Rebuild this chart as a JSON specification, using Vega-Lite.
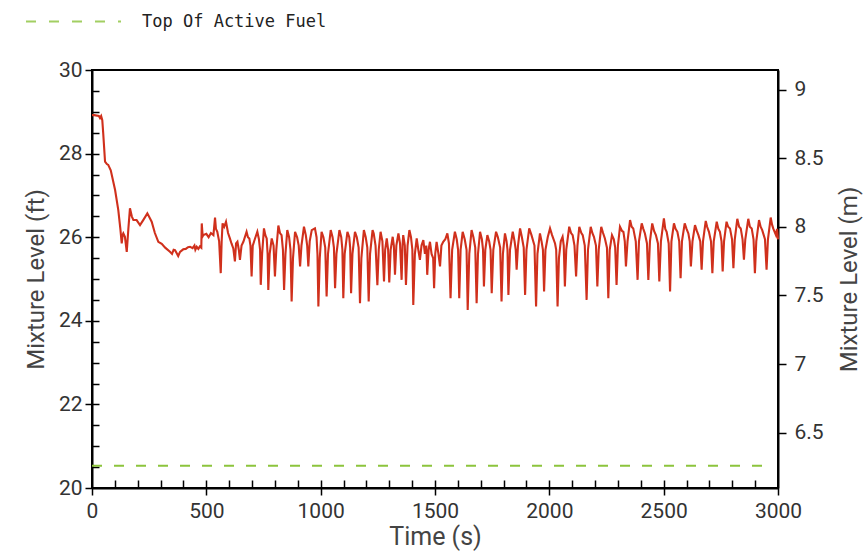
{
  "$schema": "https://vega.github.io/schema/vega-lite/v6.json",
  "width": 686,
  "height": 418,
  "autosize": {"type": "none"},
  "padding": {"left": 92, "top": 70, "right": 90, "bottom": 70},
  "background": "white",
  "config": {
    "view": {"stroke": "black", "strokeWidth": 2},
    "font": "Roboto, Liberation Sans, sans-serif",
    "axis": {
      "labelFont": "Roboto, Liberation Sans, sans-serif",
      "titleFont": "Roboto, Liberation Sans, sans-serif",
      "grid": false,
      "domainColor": "black",
      "tickColor": "black",
      "labelColor": "#333333",
      "titleColor": "#444444",
      "titleFontWeight": "normal"
    }
  },
  "datasets": {
    "level": [
      {"t":0,"ft":28.92},{"t":10,"ft":28.92},{"t":30,"ft":28.9},{"t":35,"ft":28.85},{"t":40,"ft":28.9},{"t":45,"ft":28.8},
      {"t":49,"ft":28.49},{"t":57,"ft":27.81},{"t":65,"ft":27.75},{"t":71,"ft":27.73},{"t":82,"ft":27.6},{"t":101,"ft":27.13},
      {"t":115,"ft":26.65},{"t":124,"ft":26.2},{"t":130,"ft":25.85},{"t":134,"ft":26.05},{"t":137,"ft":26.09},{"t":144,"ft":26.01},
      {"t":152,"ft":25.65},{"t":159,"ft":26.2},{"t":166,"ft":26.69},{"t":174,"ft":26.5},{"t":181,"ft":26.41},{"t":195,"ft":26.41},
      {"t":210,"ft":26.29},{"t":224,"ft":26.41},{"t":242,"ft":26.57},{"t":261,"ft":26.37},{"t":275,"ft":26.1},{"t":290,"ft":25.89},
      {"t":305,"ft":25.84},{"t":320,"ft":25.75},{"t":341,"ft":25.65},{"t":350,"ft":25.6},{"t":357,"ft":25.7},{"t":363,"ft":25.69},
      {"t":370,"ft":25.62},{"t":377,"ft":25.55},{"t":385,"ft":25.65},{"t":392,"ft":25.68},{"t":399,"ft":25.71},{"t":410,"ft":25.72},
      {"t":420,"ft":25.76},{"t":429,"ft":25.77},{"t":440,"ft":25.74},{"t":448,"ft":25.8},{"t":452,"ft":25.7},{"t":458,"ft":25.77},
      {"t":465,"ft":25.72},{"t":472,"ft":25.78},{"t":478,"ft":25.75},{"t":480,"ft":26.33},{"t":484,"ft":26.02},{"t":487,"ft":26.05},
      {"t":500,"ft":26.08},{"t":510,"ft":26.0},{"t":520,"ft":26.1},{"t":531,"ft":26.05},{"t":538,"ft":26.47},{"t":542,"ft":26.2},
      {"t":548,"ft":26.13},{"t":556,"ft":25.9},{"t":563,"ft":25.14},{"t":567,"ft":25.9},{"t":571,"ft":26.33},{"t":578,"ft":26.25},
      {"t":586,"ft":26.37},{"t":595,"ft":26.1},{"t":603,"ft":25.97},{"t":610,"ft":25.85},{"t":618,"ft":25.73},{"t":625,"ft":25.42},
      {"t":630,"ft":25.85},{"t":636,"ft":25.89},{"t":642,"ft":25.7},{"t":647,"ft":25.46},{"t":654,"ft":25.8},{"t":662,"ft":25.89},
      {"t":676,"ft":26.13},{"t":682,"ft":26.0},{"t":688,"ft":25.97},{"t":693,"ft":25.8},{"t":698,"ft":25.06},{"t":703,"ft":25.8},
      {"t":713,"ft":25.97},{"t":723,"ft":26.13},{"t":730,"ft":25.95},{"t":735,"ft":25.7},{"t":738,"ft":24.86},{"t":744,"ft":25.6},
      {"t":752,"ft":26.21},{"t":758,"ft":26.05},{"t":764,"ft":25.97},{"t":768,"ft":25.6},{"t":771,"ft":24.74},{"t":777,"ft":25.6},
      {"t":786,"ft":25.97},{"t":794,"ft":25.8},{"t":800,"ft":25.06},{"t":806,"ft":25.7},{"t":815,"ft":26.28},{"t":822,"ft":26.1},
      {"t":829,"ft":26.05},{"t":835,"ft":25.7},{"t":840,"ft":24.74},{"t":846,"ft":25.6},{"t":854,"ft":26.17},{"t":862,"ft":26.0},
      {"t":868,"ft":25.7},{"t":873,"ft":24.46},{"t":879,"ft":25.5},{"t":888,"ft":26.13},{"t":897,"ft":26.0},{"t":904,"ft":25.8},
      {"t":910,"ft":25.3},{"t":916,"ft":25.8},{"t":927,"ft":26.25},{"t":935,"ft":26.05},{"t":941,"ft":25.8},{"t":946,"ft":25.3},
      {"t":952,"ft":25.9},{"t":961,"ft":26.17},{"t":975,"ft":26.21},{"t":982,"ft":26.0},{"t":986,"ft":25.6},{"t":990,"ft":24.34},
      {"t":996,"ft":25.5},{"t":1004,"ft":26.13},{"t":1012,"ft":26.0},{"t":1020,"ft":25.75},{"t":1026,"ft":24.58},{"t":1032,"ft":25.6},
      {"t":1044,"ft":26.17},{"t":1052,"ft":26.0},{"t":1058,"ft":25.75},{"t":1063,"ft":24.78},{"t":1069,"ft":25.6},{"t":1082,"ft":26.17},
      {"t":1090,"ft":26.0},{"t":1095,"ft":25.7},{"t":1099,"ft":24.54},{"t":1105,"ft":25.6},{"t":1117,"ft":26.13},{"t":1125,"ft":26.0},
      {"t":1129,"ft":25.75},{"t":1133,"ft":24.66},{"t":1139,"ft":25.6},{"t":1150,"ft":26.13},{"t":1158,"ft":26.0},{"t":1166,"ft":25.75},
      {"t":1172,"ft":24.42},{"t":1178,"ft":25.5},{"t":1189,"ft":26.17},{"t":1197,"ft":26.0},{"t":1204,"ft":25.75},{"t":1210,"ft":24.46},
      {"t":1216,"ft":25.6},{"t":1227,"ft":26.17},{"t":1232,"ft":26.09},{"t":1240,"ft":25.8},{"t":1248,"ft":24.85},{"t":1254,"ft":25.7},
      {"t":1262,"ft":26.13},{"t":1270,"ft":25.9},{"t":1277,"ft":24.94},{"t":1282,"ft":25.7},{"t":1289,"ft":25.97},{"t":1295,"ft":25.7},
      {"t":1300,"ft":24.92},{"t":1306,"ft":25.7},{"t":1315,"ft":26.01},{"t":1320,"ft":25.8},{"t":1325,"ft":25.1},{"t":1331,"ft":25.8},
      {"t":1340,"ft":26.09},{"t":1347,"ft":25.85},{"t":1354,"ft":24.98},{"t":1358,"ft":25.8},{"t":1361,"ft":26.05},{"t":1368,"ft":25.8},
      {"t":1373,"ft":24.86},{"t":1380,"ft":25.8},{"t":1388,"ft":26.17},{"t":1395,"ft":26.0},{"t":1401,"ft":25.7},{"t":1405,"ft":24.38},
      {"t":1412,"ft":25.6},{"t":1420,"ft":25.97},{"t":1427,"ft":25.7},{"t":1434,"ft":25.46},{"t":1441,"ft":25.8},{"t":1449,"ft":25.93},
      {"t":1456,"ft":25.6},{"t":1462,"ft":25.8},{"t":1466,"ft":25.1},{"t":1472,"ft":25.7},{"t":1478,"ft":25.89},{"t":1485,"ft":25.6},
      {"t":1492,"ft":25.5},{"t":1496,"ft":24.78},{"t":1501,"ft":25.6},{"t":1507,"ft":25.89},{"t":1515,"ft":25.6},{"t":1522,"ft":25.3},
      {"t":1528,"ft":25.8},{"t":1536,"ft":25.89},{"t":1545,"ft":25.95},{"t":1554,"ft":26.09},{"t":1561,"ft":25.85},{"t":1568,"ft":24.54},
      {"t":1575,"ft":25.7},{"t":1587,"ft":26.13},{"t":1595,"ft":25.95},{"t":1601,"ft":25.7},{"t":1606,"ft":24.54},{"t":1612,"ft":25.7},
      {"t":1621,"ft":26.13},{"t":1630,"ft":25.95},{"t":1638,"ft":25.7},{"t":1643,"ft":24.26},{"t":1650,"ft":25.6},{"t":1660,"ft":26.17},
      {"t":1668,"ft":26.0},{"t":1676,"ft":25.75},{"t":1682,"ft":24.42},{"t":1688,"ft":25.6},{"t":1697,"ft":26.13},{"t":1705,"ft":25.95},
      {"t":1710,"ft":25.7},{"t":1714,"ft":24.82},{"t":1720,"ft":25.7},{"t":1729,"ft":26.05},{"t":1737,"ft":25.9},{"t":1743,"ft":25.7},
      {"t":1748,"ft":24.66},{"t":1755,"ft":25.7},{"t":1767,"ft":26.13},{"t":1775,"ft":26.0},{"t":1785,"ft":25.75},{"t":1791,"ft":24.46},
      {"t":1797,"ft":25.6},{"t":1806,"ft":26.09},{"t":1813,"ft":25.9},{"t":1817,"ft":25.7},{"t":1821,"ft":24.62},{"t":1828,"ft":25.7},
      {"t":1840,"ft":26.13},{"t":1848,"ft":25.9},{"t":1853,"ft":25.7},{"t":1857,"ft":25.22},{"t":1863,"ft":25.8},{"t":1872,"ft":26.21},
      {"t":1880,"ft":26.0},{"t":1888,"ft":25.75},{"t":1894,"ft":24.62},{"t":1900,"ft":25.7},{"t":1912,"ft":26.21},{"t":1922,"ft":26.05},
      {"t":1935,"ft":25.8},{"t":1942,"ft":24.34},{"t":1948,"ft":25.6},{"t":1959,"ft":26.09},{"t":1966,"ft":25.9},{"t":1972,"ft":25.7},
      {"t":1977,"ft":24.7},{"t":1983,"ft":25.7},{"t":1993,"ft":26.0},{"t":2003,"ft":26.21},{"t":2012,"ft":26.05},{"t":2025,"ft":25.85},
      {"t":2030,"ft":25.7},{"t":2036,"ft":24.34},{"t":2042,"ft":25.5},{"t":2050,"ft":25.9},{"t":2058,"ft":26.01},{"t":2063,"ft":25.8},
      {"t":2068,"ft":24.82},{"t":2074,"ft":25.7},{"t":2087,"ft":26.25},{"t":2095,"ft":26.1},{"t":2102,"ft":26.05},{"t":2110,"ft":25.8},
      {"t":2117,"ft":25.06},{"t":2123,"ft":25.8},{"t":2131,"ft":26.25},{"t":2140,"ft":26.1},{"t":2146,"ft":26.05},{"t":2155,"ft":25.8},
      {"t":2163,"ft":24.5},{"t":2169,"ft":25.7},{"t":2181,"ft":26.25},{"t":2188,"ft":26.1},{"t":2195,"ft":26.01},{"t":2204,"ft":25.8},
      {"t":2210,"ft":24.82},{"t":2216,"ft":25.7},{"t":2227,"ft":26.25},{"t":2235,"ft":26.1},{"t":2243,"ft":25.97},{"t":2252,"ft":25.75},
      {"t":2258,"ft":24.54},{"t":2264,"ft":25.7},{"t":2274,"ft":26.05},{"t":2282,"ft":25.95},{"t":2288,"ft":25.75},{"t":2294,"ft":24.86},
      {"t":2300,"ft":25.8},{"t":2309,"ft":26.25},{"t":2318,"ft":26.15},{"t":2324,"ft":26.13},{"t":2330,"ft":25.9},{"t":2335,"ft":25.3},
      {"t":2342,"ft":25.9},{"t":2353,"ft":26.41},{"t":2360,"ft":26.25},{"t":2367,"ft":26.21},{"t":2378,"ft":25.9},{"t":2386,"ft":24.98},
      {"t":2392,"ft":25.9},{"t":2404,"ft":26.33},{"t":2411,"ft":26.2},{"t":2418,"ft":26.09},{"t":2427,"ft":25.85},{"t":2433,"ft":24.98},
      {"t":2440,"ft":25.9},{"t":2450,"ft":26.33},{"t":2458,"ft":26.15},{"t":2466,"ft":26.05},{"t":2475,"ft":25.85},{"t":2481,"ft":24.94},
      {"t":2488,"ft":25.9},{"t":2501,"ft":26.45},{"t":2507,"ft":26.2},{"t":2513,"ft":26.13},{"t":2522,"ft":25.85},{"t":2528,"ft":24.7},
      {"t":2534,"ft":25.9},{"t":2545,"ft":26.33},{"t":2552,"ft":26.2},{"t":2560,"ft":26.13},{"t":2568,"ft":25.9},{"t":2574,"ft":25.02},
      {"t":2580,"ft":25.9},{"t":2592,"ft":26.33},{"t":2600,"ft":26.2},{"t":2608,"ft":26.09},{"t":2614,"ft":25.9},{"t":2619,"ft":25.3},
      {"t":2626,"ft":25.9},{"t":2637,"ft":26.29},{"t":2645,"ft":26.15},{"t":2652,"ft":26.05},{"t":2660,"ft":25.9},{"t":2666,"ft":25.22},
      {"t":2672,"ft":25.9},{"t":2684,"ft":26.39},{"t":2690,"ft":26.25},{"t":2698,"ft":26.13},{"t":2707,"ft":25.9},{"t":2713,"ft":25.14},
      {"t":2719,"ft":25.9},{"t":2732,"ft":26.37},{"t":2739,"ft":26.2},{"t":2746,"ft":26.13},{"t":2753,"ft":25.9},{"t":2758,"ft":25.18},
      {"t":2764,"ft":25.9},{"t":2775,"ft":26.37},{"t":2782,"ft":26.25},{"t":2790,"ft":26.21},{"t":2799,"ft":25.95},{"t":2805,"ft":25.26},
      {"t":2811,"ft":25.95},{"t":2822,"ft":26.44},{"t":2830,"ft":26.25},{"t":2837,"ft":26.21},{"t":2845,"ft":25.95},{"t":2851,"ft":25.46},
      {"t":2857,"ft":25.95},{"t":2870,"ft":26.44},{"t":2877,"ft":26.25},{"t":2885,"ft":26.21},{"t":2893,"ft":25.95},{"t":2899,"ft":25.14},
      {"t":2905,"ft":25.9},{"t":2917,"ft":26.41},{"t":2924,"ft":26.25},{"t":2931,"ft":26.17},{"t":2943,"ft":25.95},{"t":2950,"ft":25.22},
      {"t":2956,"ft":25.95},{"t":2968,"ft":26.47},{"t":2974,"ft":26.3},{"t":2979,"ft":26.21},{"t":2991,"ft":26.05},{"t":2996,"ft":26.2},
      {"t":3000,"ft":25.95}
    ],
    "fuel": [
      {"t": 0, "ft": 20.53, "series": "Top Of Active Fuel"},
      {"t": 2968, "ft": 20.53, "series": "Top Of Active Fuel"}
    ],
    "meters": [{"m": 6.096}, {"m": 9.144}]
  },
  "layer": [
    {
      "data": {"name": "fuel"},
      "mark": {"type": "line", "strokeDash": [10, 12], "strokeWidth": 2},
      "encoding": {
        "x": {
          "field": "t", "type": "quantitative",
          "scale": {"domain": [0, 3000], "nice": false},
          "axis": {
            "orient": "bottom",
            "values": [100,200,300,400,500,600,700,800,900,1000,1100,1200,1300,1400,1500,1600,1700,1800,1900,2000,2100,2200,2300,2400,2500,2600,2700,2800,2900],
            "tickSize": -8, "tickWidth": 1.5, "labels": false, "domain": false, "title": null
          }
        },
        "y": {
          "field": "ft", "type": "quantitative",
          "scale": {"domain": [20, 30], "nice": false, "zero": false},
          "axis": {
            "orient": "left",
            "values": [20.5,21,21.5,22,22.5,23,23.5,24,24.5,25,25.5,26,26.5,27,27.5,28,28.5,29,29.5],
            "tickSize": -7, "tickWidth": 1.5, "labels": false, "domain": false, "title": null
          }
        },
        "color": {
          "field": "series", "type": "nominal",
          "scale": {"domain": ["Top Of Active Fuel"], "range": ["#8cc43c"]},
          "legend": {
            "orient": "none", "legendX": -67, "legendY": -97, "title": null,
            "symbolType": "stroke", "symbolSize": 9025, "symbolStrokeWidth": 2,
            "symbolDash": [10, 13], "symbolOpacity": 0.8,
            "labelFontSize": 17, "labelColor": "#222222", "labelOffset": 20, "padding": 0,
            "labelLimit": 500,
            "labelFont": "DejaVu Sans Mono, monospace"
          }
        }
      }
    },
    {
      "data": {"name": "level"},
      "mark": {"type": "line", "color": "#d0301c", "strokeWidth": 2.1},
      "encoding": {
        "x": {
          "field": "t", "type": "quantitative",
          "scale": {"domain": [0, 3000], "nice": false},
          "axis": {
            "orient": "bottom",
            "values": [0, 500, 1000, 1500, 2000, 2500, 3000],
            "format": "d",
            "tickSize": 7, "tickWidth": 1.5, "domainWidth": 2,
            "labelFontSize": 21, "labelPadding": 5, "labelFlush": false,
            "title": "Time  (s)", "titleFontSize": 25, "titlePadding": 3
          }
        },
        "y": {
          "field": "ft", "type": "quantitative",
          "scale": {"domain": [20, 30], "nice": false, "zero": false},
          "axis": {
            "orient": "left",
            "values": [20, 22, 24, 26, 28, 30],
            "tickSize": 7, "tickWidth": 1.5, "domainWidth": 2,
            "labelFontSize": 21, "labelPadding": 3,
            "title": "Mixture Level  (ft)", "titleFontSize": 24, "titlePadding": 10
          }
        }
      }
    },
    {
      "data": {"name": "meters"},
      "mark": {"type": "point", "opacity": 0},
      "encoding": {
        "y": {
          "field": "m", "type": "quantitative",
          "scale": {"domain": [6.096, 9.144], "nice": false, "zero": false},
          "axis": {
            "orient": "right",
            "values": [6.5, 7, 7.5, 8, 8.5, 9],
            "format": "~g",
            "tickSize": 8, "tickWidth": 1.5, "domainWidth": 2,
            "labelFontSize": 21, "labelPadding": 8,
            "title": "Mixture Level  (m)", "titleFontSize": 24, "titlePadding": 14,
            "titleAngle": 270, "titleBaseline": "top"
          }
        }
      }
    }
  ],
  "resolve": {"scale": {"x": "independent", "y": "independent"}}
}
